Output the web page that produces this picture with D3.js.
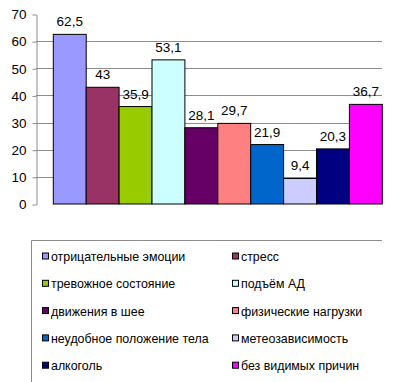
<!DOCTYPE html>
<html>
<head>
<meta charset="utf-8">
<script src="https://cdn.jsdelivr.net/npm/d3@7"></script>
<style>
  body { margin: 0; background: #fff; }
  svg text { font-family: Arial, "Liberation Sans", sans-serif; fill: #000; }
</style>
</head>
<body>
<div id="chart"></div>
<script>
// data
const categories = [
  "отрицательные эмоции", "стресс", "тревожное состояние", "подъём АД",
  "движения в шее", "физические нагрузки", "неудобное положение тела",
  "метеозависимость", "алкоголь", "без видимых причин"
];
const values = [62.5, 43, 35.9, 53.1, 28.1, 29.7, 21.9, 9.4, 20.3, 36.7];
const colors = [
  "#9999ff", "#993366", "#99cc00", "#ccffff", "#660066",
  "#ff8080", "#0066cc", "#ccccff", "#000080", "#ff00ff"
];
const yTicks = [0, 10, 20, 30, 40, 50, 60, 70];

const width = 393, height = 382;
const svg = d3.select("#chart").append("svg")
  .attr("width", width).attr("height", height);

// scales
const yScale = d3.scaleLinear().domain([0, 70]).range([204, 14]);
const xScale = d3.scaleBand().domain(categories).range([53.3, 382.3]).padding(0);
const axisX = 36, plotRight = 382;
const fmt = (v) => String(v).replace(".", ",");

// gridlines
svg.append("g")
  .selectAll("line")
  .data(yTicks.filter((d) => d > 0 && d < 70))
  .join("line")
  .attr("x1", axisX).attr("x2", plotRight)
  .attr("y1", (d) => Math.round(yScale(d)) + 0.5)
  .attr("y2", (d) => Math.round(yScale(d)) + 0.5)
  .attr("stroke", "#8c8c8c").attr("stroke-width", 1);

// y axis
const yAxis = d3.axisLeft(yScale).tickValues(yTicks).tickSize(4).tickPadding(6).tickSizeOuter(0);
const gy = svg.append("g")
  .attr("transform", `translate(${axisX + 0.5}, 0.5)`)
  .call(yAxis);
gy.select(".domain").attr("stroke", "#8c8c8c");
gy.selectAll(".tick line").attr("stroke", "#8c8c8c");
gy.selectAll(".tick text").style("font-size", "13.5px").attr("fill", "#000");

// bars
svg.append("g")
  .selectAll("rect")
  .data(values)
  .join("rect")
  .attr("x", (d, i) => xScale(categories[i]))
  .attr("y", (d) => yScale(d))
  .attr("width", xScale.bandwidth())
  .attr("height", (d) => yScale(0) - yScale(d))
  .attr("fill", (d, i) => colors[i])
  .attr("stroke", "#000").attr("stroke-width", 1);

// value labels
svg.append("g")
  .selectAll("text")
  .data(values)
  .join("text")
  .attr("x", (d, i) => xScale(categories[i]) + xScale.bandwidth() / 2)
  .attr("y", (d) => yScale(d) - 8)
  .attr("text-anchor", "middle")
  .style("font-size", "13.5px")
  .text((d) => fmt(d));

// legend
const legend = svg.append("g");
legend.append("line")
  .attr("x1", 31.5).attr("x2", 382).attr("y1", 240.5).attr("y2", 240.5)
  .attr("stroke", "#8c8c8c");
legend.append("line")
  .attr("x1", 31.5).attr("x2", 31.5).attr("y1", 240.5).attr("y2", height)
  .attr("stroke", "#8c8c8c");

const colX = [42, 232];
const rowY = (r) => 256.5 + r * 27.3;
const items = legend.selectAll("g.item")
  .data(categories)
  .join("g")
  .attr("class", "item")
  .attr("transform", (d, i) => `translate(${colX[i % 2]}, ${rowY(Math.floor(i / 2))})`);

items.append("rect")
  .attr("x", 0.5).attr("y", -3.5)
  .attr("width", 6).attr("height", 6)
  .attr("fill", (d, i) => colors[i])
  .attr("stroke", "#000").attr("stroke-width", 1);

items.append("text")
  .attr("x", 9).attr("y", 4.5)
  .style("font-size", "12.4px")
  .text((d) => d);
</script>
</body>
</html>
